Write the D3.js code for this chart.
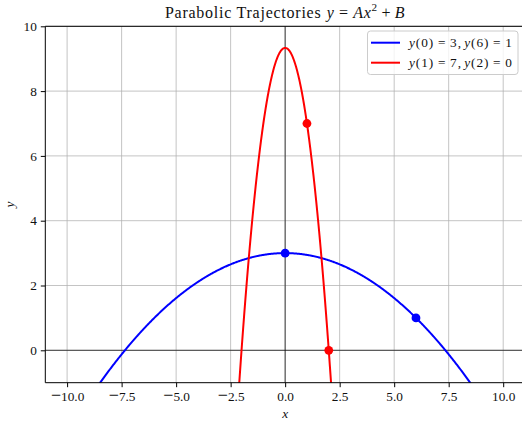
<!DOCTYPE html>
<html>
<head>
<meta charset="utf-8">
<script src="https://cdn.jsdelivr.net/npm/d3@7"></script>
<style>
  html, body { margin: 0; padding: 0; background: #fff; }
  svg { display: block; }
  text { font-family: "Liberation Serif", "DejaVu Serif", serif; fill: #111; }
</style>
</head>
<body>
<svg id="chart" width="522" height="423"></svg>
<script>
// Trajectory definitions: y = A x^2 + B through two given points
const seriesNames = ["blue", "red"];
const seriesColors = ["#0000ff", "#ff0000"];
const pointXs = [[0, 6], [1, 2]];
const pointYs = [[3, 1], [7, 0]];
const xTicks = [-10, -7.5, -5, -2.5, 0, 2.5, 5, 7.5, 10];
const yTicks = [0, 2, 4, 6, 8, 10];
const xDomain = [-11, 11];
const yDomain = [-1, 10];
const sampleRange = [-10, 10];

const svg = d3.select("#chart");
const margin = { left: 45.3, top: 26.3, right: 525, bottom: 382.7 };

const x = d3.scaleLinear().domain(xDomain).range([margin.left, margin.right]);
const y = d3.scaleLinear().domain(yDomain).range([margin.bottom, margin.top]);

// Solve A, B from two points
function coeffs(xs, ys) {
  const A = (ys[1] - ys[0]) / (xs[1] * xs[1] - xs[0] * xs[0]);
  const B = ys[0] - A * xs[0] * xs[0];
  return [A, B];
}

// Lay out a math-like string from segments: {t, it, sup, gap (em before)}
function mathText(parent, px, py, anchor, size, segs, spacing) {
  const t = parent.append("text").attr("x", px).attr("y", py)
    .attr("text-anchor", anchor).style("font-size", size + "px")
    .style("letter-spacing", (spacing || 0) + "px");
  let raised = 0;
  segs.forEach(s => {
    const sp = t.append("tspan").text(s.t);
    if (s.it) sp.style("font-style", "italic");
    if (s.gap) sp.attr("dx", s.gap * size);
    if (s.sup) {
      sp.attr("dy", -0.4 * size).style("font-size", (size * 0.7) + "px");
      raised = 0.4 * size;
    } else if (raised) {
      sp.attr("dy", raised);
      raised = 0;
    }
  });
  return t;
}

function pairLabel(i) {
  return [
    { t: "y", it: true }, { t: "(" + pointXs[i][0] + ")" },
    { t: "=", gap: 0.278 }, { t: String(pointYs[i][0]) + ",", gap: 0.278 },
    { t: "y", it: true, gap: 0.167 }, { t: "(" + pointXs[i][1] + ")" },
    { t: "=", gap: 0.278 }, { t: String(pointYs[i][1]), gap: 0.278 }
  ];
}

svg.append("defs").append("clipPath").attr("id", "plotclip")
  .append("rect")
  .attr("x", margin.left).attr("y", margin.top)
  .attr("width", margin.right - margin.left)
  .attr("height", margin.bottom - margin.top);

// Grid
const grid = svg.append("g");
grid.selectAll("line.gx").data(xTicks).enter().append("line")
  .attr("x1", d => x(d)).attr("x2", d => x(d))
  .attr("y1", margin.top).attr("y2", margin.bottom)
  .attr("stroke", "#b0b0b0").attr("stroke-opacity", 0.75).attr("stroke-width", 1);
grid.selectAll("line.gy").data(yTicks).enter().append("line")
  .attr("y1", d => y(d)).attr("y2", d => y(d))
  .attr("x1", margin.left).attr("x2", margin.right)
  .attr("stroke", "#b0b0b0").attr("stroke-opacity", 0.75).attr("stroke-width", 1);

// Zero reference lines
svg.append("line")
  .attr("x1", x(0)).attr("x2", x(0)).attr("y1", margin.top).attr("y2", margin.bottom)
  .attr("stroke", "#000").attr("stroke-opacity", 0.7).attr("stroke-width", 1);
svg.append("line")
  .attr("y1", y(0)).attr("y2", y(0)).attr("x1", margin.left).attr("x2", margin.right)
  .attr("stroke", "#000").attr("stroke-opacity", 0.7).attr("stroke-width", 1);

// Curves and points
const plot = svg.append("g").attr("clip-path", "url(#plotclip)");
const line = d3.line().x(d => x(d[0])).y(d => y(d[1]));
seriesNames.forEach((name, i) => {
  const [A, B] = coeffs(pointXs[i], pointYs[i]);
  const n = 800;
  const pts = d3.range(n + 1).map(k => {
    const xv = sampleRange[0] + (sampleRange[1] - sampleRange[0]) * k / n;
    return [xv, A * xv * xv + B];
  });
  plot.append("path").datum(pts)
    .attr("d", line).attr("fill", "none")
    .attr("stroke", seriesColors[i]).attr("stroke-width", 2);
});
seriesNames.forEach((name, i) => {
  plot.selectAll(null).data(pointXs[i].map((xv, j) => [xv, pointYs[i][j]]))
    .enter().append("circle")
    .attr("cx", d => x(d[0])).attr("cy", d => y(d[1])).attr("r", 4.4)
    .attr("fill", seriesColors[i]);
});

// Spines
svg.append("path")
  .attr("d", `M${margin.left},${margin.bottom}V${margin.top}H${margin.right}`)
  .attr("fill", "none").attr("stroke", "#000").attr("stroke-width", 1);
svg.append("line")
  .attr("x1", margin.left).attr("x2", margin.right)
  .attr("y1", margin.bottom).attr("y2", margin.bottom)
  .attr("stroke", "#000").attr("stroke-width", 1);

// Axes
const xAxis = d3.axisBottom(x).tickValues(xTicks).tickSize(4.5).tickPadding(4)
  .tickFormat(d => Math.abs(d).toFixed(1));
const yAxis = d3.axisLeft(y).tickValues(yTicks).tickSize(4.5).tickPadding(4).tickFormat(d3.format("d"));
const gx = svg.append("g").attr("transform", `translate(0,${margin.bottom})`).call(xAxis);
const gy = svg.append("g").attr("transform", `translate(${margin.left},0)`).call(yAxis);
[gx, gy].forEach(g => {
  g.select(".domain").remove();
  g.selectAll(".tick line").attr("stroke", "#000").attr("stroke-width", 1);
  g.selectAll(".tick text")
    .attr("fill", "#111")
    .style("font-family", '"Liberation Serif", serif').style("font-size", "13.3px");
});
// Negative labels get a wide math minus sign on the shared baseline
gx.selectAll(".tick text").each(function (d) {
  if (d < 0) {
    const el = d3.select(this);
    const body = el.text();
    el.text("").attr("dy", null).attr("y", 8.5 + 0.71 * 13.3);
    el.append("tspan").style("font-size", "18px").text("\u2212");
    el.append("tspan").text(body);
  }
});

// Axis labels
svg.append("text").attr("x", x(0)).attr("y", 418)
  .attr("text-anchor", "middle").style("font-style", "italic").style("font-size", "13.3px").text("x");
svg.append("text").attr("transform", `translate(14,${(margin.top + margin.bottom) / 2}) rotate(-90)`)
  .attr("text-anchor", "middle").style("font-style", "italic").style("font-size", "13.3px").text("y");

// Title with math
mathText(svg, (margin.left + margin.right) / 2, 17.5, "middle", 16, [
  { t: "Parabolic Trajectories" },
  { t: "y", it: true, gap: 0.33 },
  { t: "=", gap: 0.278 },
  { t: "Ax", it: true, gap: 0.278 },
  { t: "2", sup: true },
  { t: "+", gap: 0.222 },
  { t: "B", it: true, gap: 0.222 }
], 0.75);

// Legend
const lg = svg.append("g");
lg.append("rect").attr("x", 367.5).attr("y", 31).attr("width", 150.5).attr("height", 43.5)
  .attr("rx", 3).attr("fill", "#fff").attr("fill-opacity", 0.8)
  .attr("stroke", "#cccccc").attr("stroke-width", 1);
const legendYs = [42.7, 62.7];
seriesNames.forEach((name, i) => {
  lg.append("line").attr("x1", 371).attr("x2", 400)
    .attr("y1", legendYs[i]).attr("y2", legendYs[i])
    .attr("stroke", seriesColors[i]).attr("stroke-width", 2);
  mathText(lg, 409, legendYs[i] + 4.5, "start", 13.3, pairLabel(i), 0.95);
});
</script>
</body>
</html>
